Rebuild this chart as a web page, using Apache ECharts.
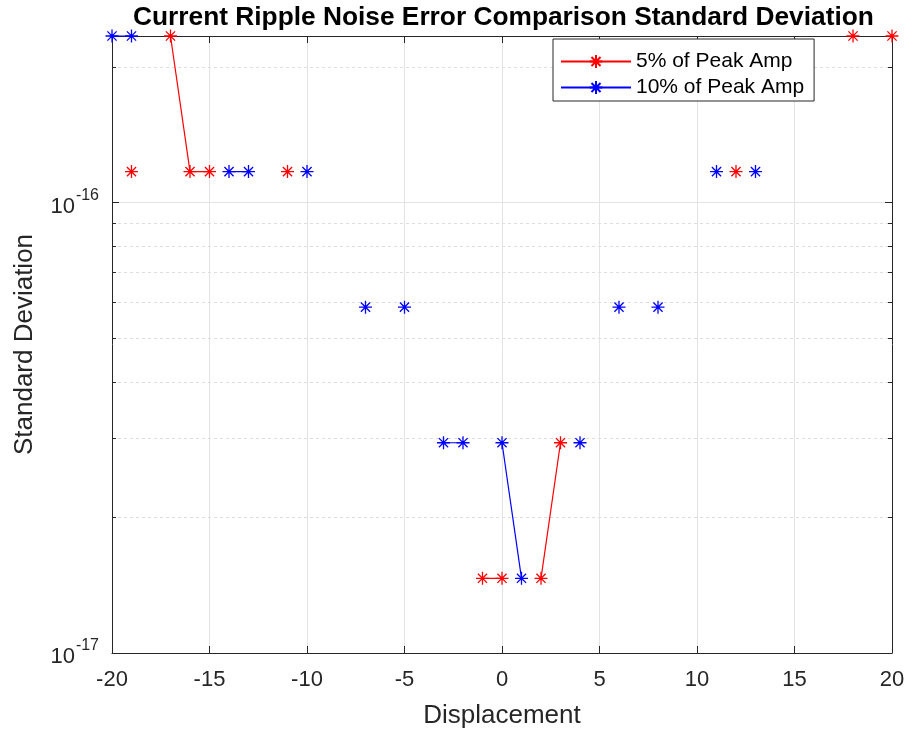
<!DOCTYPE html>
<html>
<head>
<meta charset="utf-8">
<script src="https://cdn.jsdelivr.net/npm/echarts@6/dist/echarts.min.js"></script>
<style>
  html, body { margin: 0; padding: 0; background: #fff; }
  #chart { width: 910px; height: 735px; }
</style>
</head>
<body>
<div id="chart"></div>
<script>
// ---- data ----
const displacement = [-20,-19,-18,-17,-16,-15,-14,-13,-12,-11,-10,-9,-8,-7,-6,-5,-4,-3,-2,-1,0,1,2,3,4,5,6,7,8,9,10,11,12,13,14,15,16,17,18,19,20];
const peak5 = [null,1.172e-16,null,2.344e-16,1.172e-16,1.172e-16,null,null,null,1.172e-16,null,null,null,null,null,null,null,null,null,1.465e-17,1.465e-17,null,1.465e-17,2.93e-17,null,null,null,null,null,null,null,null,1.172e-16,null,null,null,null,null,2.344e-16,null,2.344e-16];
const peak10 = [2.344e-16,2.344e-16,null,null,null,null,1.172e-16,1.172e-16,null,null,1.172e-16,null,null,5.86e-17,null,5.86e-17,null,2.93e-17,2.93e-17,null,2.93e-17,1.465e-17,null,null,2.93e-17,null,5.86e-17,null,5.86e-17,null,null,1.172e-16,null,1.172e-16,null,null,null,null,null,null,null];
const seriesNames = ['5% of Peak Amp', '10% of Peak Amp'];
const xTicks = [-20, 20, 5];               // min, max, interval
const yRange = [1e-17, 2.344e-16];
const yMajor = [1e-17, 1e-16];
const yMinor = [2e-17,3e-17,4e-17,5e-17,6e-17,7e-17,8e-17,9e-17,2e-16];

const FONT = '"Liberation Sans", Arial, Helvetica, sans-serif';
const AX = '#262626';
const STAR = 'path://M0,-10L0,10M-10,0L10,0M-7.07,-7.07L7.07,7.07M-7.07,7.07L7.07,-7.07';

function pairs(vals) { return displacement.map((x, i) => [x, vals[i] == null ? '-' : vals[i]]); }

const baseX = {
  type: 'value', min: xTicks[0], max: xTicks[1], interval: xTicks[2],
  axisLine: { show: true, onZero: false, lineStyle: { color: AX, width: 1 } },
  axisTick: { show: true, inside: true, length: 7, lineStyle: { color: AX } },
  splitLine: { show: false }
};
const baseY = {
  type: 'log', logBase: 10, min: yRange[0], max: yRange[1],
  axisLine: { show: true, onZero: false, lineStyle: { color: AX, width: 1 } },
  splitLine: { show: false },
  axisLabel: { show: false }
};

const chart = echarts.init(document.getElementById('chart'), null, { renderer: 'canvas' });
chart.setOption({
  animation: false,
  backgroundColor: '#fff',
  textStyle: { fontFamily: FONT },
  title: {
    text: 'Current Ripple Noise Error Comparison Standard Deviation',
    left: 133, top: 5, padding: 0,
    textStyle: { fontFamily: FONT, fontSize: 26.3, fontWeight: 'bold', color: '#000' }
  },
  grid: { left: 112, right: 18, top: 36, bottom: 82, containLabel: false },
  legend: {
    orient: 'vertical', left: 553, top: 39,
    padding: [12, 10, 3, 7], itemGap: 5,
    itemWidth: 70, itemHeight: 16,
    backgroundColor: '#fff', borderColor: AX, borderWidth: 1,
    textStyle: { fontFamily: FONT, fontSize: 21, color: '#000' },
    data: seriesNames
  },
  xAxis: [
    Object.assign({}, baseX, {
      position: 'bottom',
      name: 'Displacement', nameLocation: 'middle', nameGap: 50,
      nameTextStyle: { fontFamily: FONT, fontSize: 26, color: AX },
      axisLabel: { show: true, margin: 16, fontFamily: FONT, fontSize: 22, color: AX },
      splitLine: { show: true, lineStyle: { color: '#e3e3e3', width: 1 } }
    }),
    Object.assign({}, baseX, { position: 'top', axisLabel: { show: false } })
  ],
  yAxis: [
    Object.assign({}, baseY, {
      position: 'left',
      name: 'Standard Deviation', nameLocation: 'middle', nameGap: 74, nameRotate: 90,
      nameTextStyle: { fontFamily: FONT, fontSize: 26, color: AX },
      axisTick: { show: true, inside: true, length: 7, customValues: yMajor, lineStyle: { color: AX } },
      axisLabel: {
        show: true, margin: 13, customValues: yMajor,
        formatter: v => '{b|10}{s|' + Math.round(Math.log10(v)) + '}',
        rich: {
          b: { fontFamily: FONT, fontSize: 22, color: AX, verticalAlign: 'bottom', padding: [6, 0, 0, 0] },
          s: { fontFamily: FONT, fontSize: 16, color: AX, verticalAlign: 'bottom', padding: [0, 0, 14, 1] }
        }
      },
      splitLine: { show: true, lineStyle: { color: '#e3e3e3', width: 1 } }
    }),
    Object.assign({}, baseY, {
      position: 'left',
      axisLine: { show: false, onZero: false },
      axisTick: { show: true, inside: true, length: 4, customValues: yMinor, lineStyle: { color: AX } },
      splitLine: { show: true, lineStyle: { color: '#dedede', width: 1, type: [3, 3] } }
    }),
    Object.assign({}, baseY, {
      position: 'right',
      axisTick: { show: true, inside: true, length: 7, customValues: yMajor, lineStyle: { color: AX } }
    }),
    Object.assign({}, baseY, {
      position: 'right',
      axisLine: { show: false, onZero: false },
      axisTick: { show: true, inside: true, length: 4, customValues: yMinor, lineStyle: { color: AX } }
    })
  ],
  series: [
    {
      name: seriesNames[0], type: 'line', xAxisIndex: 0, yAxisIndex: 0,
      data: pairs(peak5), connectNulls: false, clip: false,
      color: '#ff0000',
      symbol: STAR, symbolSize: 13, showAllSymbol: true,
      lineStyle: { color: '#ff0000', width: 1.2 },
      itemStyle: { color: 'rgba(0,0,0,0)', borderColor: '#ff0000', borderWidth: 1.3 },
      emphasis: { disabled: true }, z: 3
    },
    {
      name: seriesNames[1], type: 'line', xAxisIndex: 0, yAxisIndex: 0,
      data: pairs(peak10), connectNulls: false, clip: false,
      color: '#0000ff',
      symbol: STAR, symbolSize: 13, showAllSymbol: true,
      lineStyle: { color: '#0000ff', width: 1.2 },
      itemStyle: { color: 'rgba(0,0,0,0)', borderColor: '#0000ff', borderWidth: 1.3 },
      emphasis: { disabled: true }, z: 4
    }
  ]
});
</script>
</body>
</html>
